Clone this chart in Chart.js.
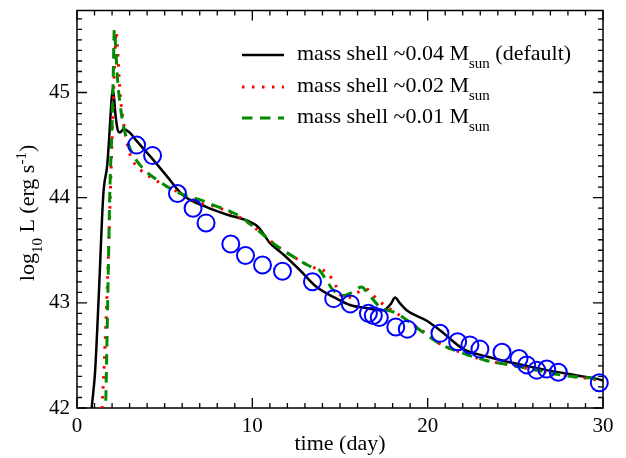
<!DOCTYPE html>
<html>
<head>
<meta charset="utf-8">
<script src="https://cdn.jsdelivr.net/npm/chart.js@4"></script>
<style>
  html, body { margin: 0; padding: 0; background: #fff; }
  canvas { display: block; }
</style>
</head>
<body>
<canvas id="lc" width="626" height="458"></canvas>
<script>
// observed light curve (blue circles)
const obsDay = [3.40, 4.31, 5.73, 6.62, 7.36, 8.77, 9.61, 10.58, 11.72, 13.43, 14.64, 15.59,
  16.62, 16.90, 17.24, 18.18, 18.84, 20.70, 21.71, 22.41, 22.98, 24.24, 25.21, 25.65,
  26.22, 26.79, 27.45, 29.79];
const obsLogL = [44.50, 44.40, 44.04, 43.90, 43.76, 43.56, 43.45, 43.36, 43.30, 43.20, 43.04, 42.99,
  42.90, 42.88, 42.86, 42.77, 42.75, 42.71, 42.63, 42.60, 42.56, 42.53, 42.47, 42.41,
  42.36, 42.37, 42.34, 42.24];

// model: mass shell ~0.04 Msun (default)
const shell004Day = [0.80, 0.84, 1.03, 1.25, 1.50, 1.73, 1.85, 1.93, 2.03, 2.10, 2.20, 2.35, 2.45,
  2.65, 3.00, 3.40, 4.35, 5.10, 6.07, 7.40, 8.54, 9.87, 10.34, 11.00, 11.77, 12.72, 13.67,
  14.81, 15.57, 16.50, 17.48, 17.90, 18.14, 18.40, 18.80, 19.95, 20.70, 22.04, 23.37,
  25.08, 26.80, 28.50, 29.83, 30.00];
const shell004LogL = [41.90, 42.00, 42.34, 43.10, 44.03, 44.32, 44.61, 44.83, 45.03, 44.97, 44.78, 44.63, 44.62,
  44.65, 44.62, 44.54, 44.36, 44.21, 44.02, 43.91, 43.84, 43.77, 43.72, 43.57, 43.46, 43.31, 43.15,
  43.04, 42.98, 42.95, 42.93, 42.99, 43.05, 43.00, 42.93, 42.83, 42.74, 42.56, 42.49,
  42.42, 42.36, 42.31, 42.27, 42.26];

// model: mass shell ~0.02 Msun
const shell002Day = [1.40, 1.43, 1.60, 1.78, 1.93, 2.05, 2.15, 2.24, 2.30, 2.45, 2.65, 2.99, 3.60,
  4.55, 5.30, 6.07, 7.00, 7.78, 9.10, 10.25, 11.40, 12.53, 13.39, 14.05, 14.62, 15.00, 15.46,
  15.90, 16.52, 16.90, 17.28, 18.24, 19.57, 20.71, 22.04, 23.37, 24.70, 26.22, 27.74, 29.83, 30.00];
const shell002LogL = [41.90, 42.00, 42.60, 43.40, 44.20, 44.80, 45.30, 45.58, 45.45, 45.01, 44.72, 44.43, 44.27,
  44.16, 44.09, 44.03, 43.95, 43.92, 43.83, 43.70, 43.54, 43.42, 43.34, 43.31, 43.21, 43.08, 43.05,
  43.09, 43.13, 43.07, 43.01, 42.90, 42.75, 42.61, 42.52, 42.45, 42.41, 42.36, 42.31, 42.26, 42.25];

// model: mass shell ~0.01 Msun
const shell001Day = [1.60, 1.63, 1.75, 1.88, 1.98, 2.06, 2.13, 2.20, 2.30, 2.45, 2.64, 3.02, 3.60,
  4.55, 5.88, 7.20, 7.78, 9.10, 10.25, 11.40, 12.53, 13.39, 13.77, 14.24, 14.62, 15.19, 15.57,
  16.24, 16.50, 17.28, 18.24, 19.57, 20.71, 22.04, 23.37, 24.70, 26.22, 27.74, 29.83, 30.00];
const shell001LogL = [41.90, 42.00, 43.00, 44.10, 44.60, 45.10, 45.60, 45.45, 45.15, 44.90, 44.69, 44.47, 44.31,
  44.17, 44.04, 43.97, 43.93, 43.84, 43.70, 43.54, 43.42, 43.34, 43.32, 43.21, 43.12, 43.07, 43.09,
  43.15, 43.11, 42.96, 42.90, 42.74, 42.61, 42.52, 42.45, 42.41, 42.36, 42.31, 42.27, 42.26];

// legend entries: main text, subscript, trailing text
const legendMain = ['mass shell ~0.04 M', 'mass shell ~0.02 M', 'mass shell ~0.01 M'];
const legendSub = ['sun', 'sun', 'sun'];
const legendTail = [' (default)', '', ''];

const serif = "'Liberation Serif', serif";
Chart.defaults.font.family = serif;
Chart.defaults.color = '#000';

function pts(xs, ys) {
  return xs.map((d, i) => ({ x: d, y: ys[i] }));
}

// draw a run of text pieces [text, size, dy] from x, returns width
function drawRich(ctx, parts, x, y, measureOnly) {
  let cx = x;
  for (const [t, size, dy] of parts) {
    ctx.font = size + 'px ' + serif;
    if (!measureOnly) ctx.fillText(t, cx, y + dy);
    cx += ctx.measureText(t).width;
  }
  return cx - x;
}

const lineStyles = [
  { color: '#000000', width: 2.5, dash: [] },
  { color: '#ff0000', width: 3, dash: [2.5, 7.5] },
  { color: '#008b00', width: 3, dash: [10.5, 7.5] }
];

const framePlugin = {
  id: 'frame',
  beforeDatasetsDraw(chart) {
    const { ctx, chartArea: a, scales: { x, y } } = chart;
    ctx.save();
    ctx.strokeStyle = '#000';
    ctx.lineWidth = 1.3;
    ctx.beginPath();
    // inward ticks, all four sides
    for (let d = 0; d <= 30; d++) {
      const px = x.getPixelForValue(d);
      const len = d % 10 === 0 ? 10 : 5;
      ctx.moveTo(px, a.bottom); ctx.lineTo(px, a.bottom - len);
      ctx.moveTo(px, a.top); ctx.lineTo(px, a.top + len);
    }
    for (let i = 420; i <= 457; i++) {
      const py = y.getPixelForValue(i / 10);
      const len = i % 10 === 0 ? 10 : 5;
      ctx.moveTo(a.left, py); ctx.lineTo(a.left + len, py);
      ctx.moveTo(a.right, py); ctx.lineTo(a.right - len, py);
    }
    ctx.stroke();
    ctx.lineWidth = 1.5;
    ctx.strokeRect(a.left, a.top, a.right - a.left, a.bottom - a.top);
    ctx.restore();
  },
  afterDraw(chart) {
    const { ctx, chartArea: a } = chart;
    ctx.save();
    ctx.fillStyle = '#000';
    ctx.textBaseline = 'alphabetic';

    // x axis title
    ctx.font = '22px ' + serif;
    ctx.textAlign = 'center';
    ctx.fillText('time (day)', (a.left + a.right) / 2, 450);

    // y axis title, rotated, with sub/superscript
    ctx.textAlign = 'left';
    const yParts = [['log', 22, 0], ['10', 15, 8], [' L (erg s', 22, 0], ['-1', 15, -8], [')', 22, 0]];
    const w = drawRich(ctx, yParts, 0, 0, true);
    ctx.save();
    ctx.translate(33.5, 213);
    ctx.rotate(-Math.PI / 2);
    drawRich(ctx, yParts, -w / 2, 0);
    ctx.restore();

    // legend
    const baselines = [59.5, 91.5, 122.5];
    for (let i = 0; i < legendMain.length; i++) {
      const s = lineStyles[i];
      ctx.save();
      ctx.strokeStyle = s.color;
      ctx.lineWidth = s.width;
      ctx.setLineDash(s.dash);
      ctx.beginPath();
      ctx.moveTo(242, baselines[i] - 4.5);
      ctx.lineTo(284, baselines[i] - 4.5);
      ctx.stroke();
      ctx.restore();
      drawRich(ctx, [[legendMain[i], 22, 0], [legendSub[i], 15, 8.5], [legendTail[i], 22, 0]], 297, baselines[i]);
    }
    ctx.restore();
  }
};

const lineBase = {
  showLine: true,
  pointRadius: 0,
  pointHoverRadius: 0,
  fill: false,
  cubicInterpolationMode: 'monotone'
};

new Chart(document.getElementById('lc'), {
  type: 'scatter',
  data: {
    datasets: [
      {
        label: 'observed',
        data: pts(obsDay, obsLogL),
        showLine: false,
        pointStyle: 'circle',
        pointRadius: 8.5,
        pointBorderWidth: 2,
        pointBorderColor: '#0000ff',
        pointBackgroundColor: 'rgba(0,0,0,0)',
        clip: false,
        order: 1
      },
      Object.assign({}, lineBase, {
        label: legendMain[2],
        data: pts(shell001Day, shell001LogL),
        borderColor: lineStyles[2].color,
        borderWidth: lineStyles[2].width,
        borderDash: lineStyles[2].dash,
        order: 2
      }),
      Object.assign({}, lineBase, {
        label: legendMain[1],
        data: pts(shell002Day, shell002LogL),
        borderColor: lineStyles[1].color,
        borderWidth: lineStyles[1].width,
        borderDash: lineStyles[1].dash,
        order: 3
      }),
      Object.assign({}, lineBase, {
        label: legendMain[0],
        data: pts(shell004Day, shell004LogL),
        borderColor: lineStyles[0].color,
        borderWidth: lineStyles[0].width,
        order: 4
      })
    ]
  },
  options: {
    responsive: false,
    animation: false,
    events: [],
    layout: { padding: { left: 0, right: 23, top: 8, bottom: 0 } },
    plugins: {
      legend: { display: false },
      tooltip: { enabled: false }
    },
    scales: {
      x: {
        type: 'linear',
        min: 0,
        max: 30,
        grid: { display: false, drawTicks: false },
        border: { display: false },
        ticks: {
          stepSize: 10,
          maxRotation: 0,
          padding: 6,
          color: '#000',
          font: { family: serif, size: 21 }
        },
        afterFit(scale) {
          scale.height = 50;
          scale.paddingLeft = 0;
          scale.paddingRight = 0;
        }
      },
      y: {
        type: 'linear',
        min: 42,
        max: 45.78,
        grid: { display: false, drawTicks: false },
        border: { display: false },
        ticks: {
          stepSize: 1,
          includeBounds: false,
          padding: 7,
          color: '#000',
          font: { family: serif, size: 21 }
        },
        afterFit(scale) {
          scale.width = 77;
          scale.paddingTop = 0;
          scale.paddingBottom = 0;
        }
      }
    }
  },
  plugins: [framePlugin]
});
</script>
</body>
</html>
